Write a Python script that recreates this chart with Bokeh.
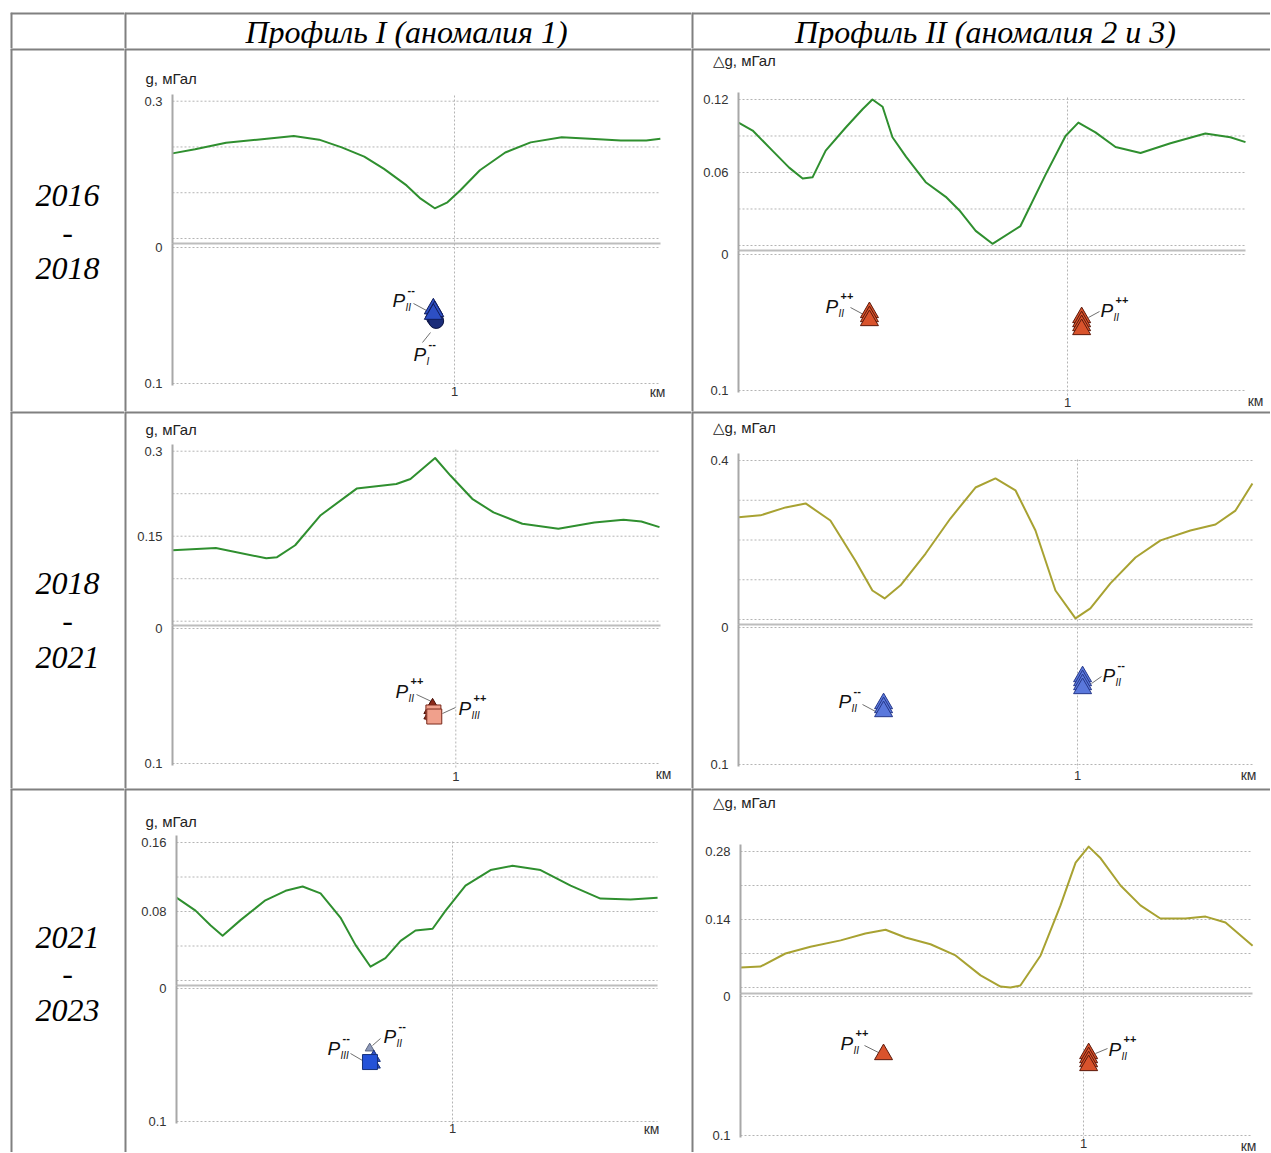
from bokeh.plotting import figure
from bokeh.models import Range1d, LinearAxis, FixedTicker, NumeralTickFormatter, Spacer
from bokeh.layouts import column, row
from bokeh.embed import file_html
from bokeh.resources import INLINE
from bokeh.core.properties import value

# ---------------- texts ----------------
header_labels = ["Профиль I (аномалия 1)", "Профиль II (аномалия 2 и 3)"]
period_start = ["2016", "2018", "2021"]
period_end = ["2018", "2021", "2023"]
g_label_left = "g, мГал"
g_label_right = "△g, мГал"
x_tick_label = "1"
x_unit = "км"

# ---------------- curves (km, mGal) ----------------
c11_km = [0, 0.08, 0.19, 0.30, 0.43, 0.52, 0.60, 0.68, 0.75, 0.83, 0.88, 0.93, 0.975, 1.02, 1.09, 1.18, 1.27, 1.38, 1.48, 1.59, 1.68, 1.73]
c11_g = [0.186, 0.195, 0.209, 0.216, 0.224, 0.216, 0.199, 0.179, 0.152, 0.116, 0.087, 0.066, 0.079, 0.105, 0.149, 0.188, 0.210, 0.221, 0.218, 0.214, 0.214, 0.218]

c12_km = [0, 0.043, 0.103, 0.154, 0.195, 0.225, 0.265, 0.326, 0.377, 0.407, 0.438, 0.468, 0.509, 0.569, 0.630, 0.671, 0.721, 0.772, 0.857, 0.933, 0.994, 1.033, 1.085, 1.146, 1.222, 1.313, 1.419, 1.495, 1.541]
c12_g = [0.101, 0.0945, 0.078, 0.064, 0.055, 0.056, 0.078, 0.097, 0.112, 0.120, 0.114, 0.089, 0.073, 0.052, 0.040, 0.029, 0.012, 0.0014, 0.016, 0.058, 0.090, 0.101, 0.093, 0.081, 0.076, 0.084, 0.092, 0.089, 0.085]

c21_km = [0, 0.153, 0.331, 0.369, 0.433, 0.523, 0.650, 0.790, 0.840, 0.927, 0.981, 1.058, 1.133, 1.235, 1.362, 1.489, 1.592, 1.655, 1.719]
c21_g = [0.125, 0.129, 0.111, 0.113, 0.134, 0.187, 0.234, 0.242, 0.251, 0.288, 0.257, 0.216, 0.192, 0.172, 0.163, 0.174, 0.179, 0.176, 0.166]

c22_km = [0, 0.065, 0.139, 0.198, 0.271, 0.345, 0.395, 0.431, 0.478, 0.552, 0.625, 0.699, 0.758, 0.817, 0.876, 0.935, 0.994, 1.038, 1.097, 1.171, 1.245, 1.333, 1.407, 1.466, 1.516]
c22_g = [0.257, 0.262, 0.282, 0.292, 0.249, 0.148, 0.073, 0.053, 0.086, 0.166, 0.254, 0.332, 0.355, 0.325, 0.224, 0.073, 0.003, 0.028, 0.091, 0.156, 0.199, 0.224, 0.239, 0.274, 0.342]

c31_km = [0, 0.069, 0.123, 0.167, 0.232, 0.322, 0.395, 0.457, 0.522, 0.594, 0.649, 0.703, 0.757, 0.812, 0.866, 0.928, 0.975, 1.047, 1.138, 1.217, 1.319, 1.428, 1.536, 1.645, 1.743]
c31_g = [0.096, 0.081, 0.064, 0.052, 0.070, 0.093, 0.104, 0.109, 0.101, 0.073, 0.041, 0.016, 0.026, 0.046, 0.058, 0.060, 0.081, 0.110, 0.128, 0.133, 0.128, 0.110, 0.095, 0.094, 0.096]

c32_km = [0, 0.058, 0.131, 0.204, 0.292, 0.364, 0.423, 0.481, 0.554, 0.627, 0.700, 0.758, 0.787, 0.816, 0.875, 0.933, 0.977, 1.015, 1.050, 1.108, 1.166, 1.224, 1.297, 1.356, 1.414, 1.493]
c32_g = [0.041, 0.043, 0.070, 0.084, 0.097, 0.111, 0.119, 0.103, 0.089, 0.066, 0.025, 0.002, 0.0, 0.004, 0.066, 0.169, 0.257, 0.290, 0.266, 0.210, 0.169, 0.142, 0.142, 0.146, 0.134, 0.086]

# ---------------- sources (km, depth km) ----------------
m11_circ_km = [0.928, 0.935]
m11_circ_d = [0.052, 0.054]
m11_tri_km = [0.925, 0.930, 0.925]
m11_tri_d = [0.045, 0.047, 0.049]

m12a_km = [0.398, 0.398, 0.398]
m12a_d = [0.0426, 0.0456, 0.0485]
m12b_km = [1.043, 1.043, 1.043, 1.043]
m12b_d = [0.0463, 0.0493, 0.0522, 0.0551]

m21_tri_km = [0.912, 0.912]
m21_tri_d = [0.060, 0.064]
m21_top_km = [0.918]
m21_top_d = [0.0556]
m21_sq_km = [0.921, 0.924]
m21_sq_d = [0.0622, 0.0652]

m22a_km = [0.428, 0.428, 0.428]
m22a_d = [0.0555, 0.0584, 0.0613]
m22b_km = [1.015, 1.015, 1.015, 1.015]
m22b_d = [0.0358, 0.0387, 0.0416, 0.0445]

m31_gray_km = [0.70]
m31_gray_d = [0.045]
m31_tri_km = [0.715, 0.715]
m31_tri_d = [0.052, 0.057]
m31_sq_km = [0.701]
m31_sq_d = [0.0553]

m32a_km = [0.417]
m32a_d = [0.0417]
m32b_km = [1.015, 1.015, 1.015, 1.015]
m32b_d = [0.041, 0.0439, 0.0468, 0.0496]

# ---------------- layout ----------------
COL_W = [114, 567, 579]
ROW_H = [36, 363, 377, 364]
COL_X = [10, 124, 691]
ROW_Y = [12, 48, 411, 788]
BORDER = "#808080"
GREEN = "#2f8f2f"
OLIVE = "#a8a232"
GRIDC = "#b4b4b4"
SANS = "Liberation Sans"
SERIF = "Liberation Serif"


def base_fig(w, h, xr, yr):
    p = figure(width=w, height=h, x_range=xr, y_range=yr,
               x_axis_type=None, y_axis_type=None, toolbar_location=None,
               output_backend="svg", min_border=0, outline_line_color=None,
               background_fill_color="white", border_fill_color="white")
    return p


def add_borders(p, w, h, xr="default", yr="default"):
    p.segment(x0=[0, 0], y0=[0, 0], x1=[w, 0], y1=[0, h],
              line_color=BORDER, line_width=4, x_range_name=xr, y_range_name=yr)


def text_cell(w, h, texts):
    p = base_fig(w, h, Range1d(0, w), Range1d(h, 0))
    add_borders(p, w, h)
    for (x, y, t, size) in texts:
        p.text(x=[x], y=[y], text=[t], text_align="center", text_baseline="middle",
               text_font=value(SERIF), text_font_style="italic",
               text_font_size=size, text_color="black")
    return p


def make_panel(col, rowi, geo, km, g, color, grid_vals, g_ticks, ylab_text, marks, labels):
    w, h = COL_W[col], ROW_H[rowi]
    ox, oy = COL_X[col], ROW_Y[rowi]
    ax0, ppk, g0, ppg = geo["ax0"], geo["ppk"], geo["g0"], geo["ppg"]
    sep, d0, ppd = geo["sep"], geo["d0"], geo["ppd"]
    xr = Range1d(-ax0 / ppk, (w - ax0) / ppk)
    yr = Range1d((g0 - h) / ppg, g0 / ppg)
    p = base_fig(w, h, xr, yr)
    p.extra_x_ranges = {"px": Range1d(0, w)}
    p.extra_y_ranges = {"py": Range1d(h, 0),
                        "depth": Range1d((h - d0) / ppd, -d0 / ppd)}
    xend = (geo["xend"] - ax0) / ppk

    # grid lines
    n = len(grid_vals)
    p.segment(x0=[0] * n, x1=[xend] * n, y0=grid_vals, y1=grid_vals,
              line_color=GRIDC, line_dash="2 2", line_width=1)
    p.segment(x0=[0, 0], x1=[xend, xend], y0=[0, 0.1], y1=[0, 0.1],
              line_color=GRIDC, line_dash="2 2", line_width=1, y_range_name="depth")
    p.segment(x0=[0], x1=[xend], y0=[sep], y1=[sep], line_color="#bdbdbd",
              line_width=2, y_range_name="py")
    p.segment(x0=[1], x1=[1], y0=[geo["vtop"]], y1=[geo["vbot"]],
              line_color=GRIDC, line_dash="2 2", line_width=1, y_range_name="py")

    # axes
    style = dict(axis_line_color="#a8a8a8", axis_line_width=2,
                 major_tick_line_color=None, minor_tick_line_color=None,
                 major_label_text_font=SANS, major_label_text_font_size="13px",
                 major_label_text_color="#333333", major_label_standoff=4,
                 formatter=NumeralTickFormatter(format="0.[00]"))
    ga = LinearAxis(fixed_location=0, bounds=((g0 - sep) / ppg, max(g_ticks) + 7 / ppg),
                    ticker=FixedTicker(ticks=g_ticks), **style)
    p.add_layout(ga, "left")
    da = LinearAxis(fixed_location=0, y_range_name="depth",
                    bounds=((sep - d0) / ppd, 0.1 + 2 / ppd),
                    ticker=FixedTicker(ticks=[0, 0.1]), **style)
    p.add_layout(da, "left")

    # curve
    p.line(km, g, line_color=color, line_width=2, line_join="round")

    # texts
    lx, ly = geo["ylab"]
    p.text(x=[lx], y=[ly], text=[ylab_text], text_align="left", text_baseline="middle",
           text_font=value(SANS), text_font_size="15px", text_color="#222222",
           x_range_name="px", y_range_name="py")
    p.text(x=[1], y=[geo["lab1"]], text=[x_tick_label], text_align="center",
           text_baseline="middle", text_font=value(SANS), text_font_size="13px",
           text_color="#333333", y_range_name="py")
    kx, ky = geo["labkm"]
    p.text(x=[kx], y=[ky], text=[x_unit], text_align="center", text_baseline="middle",
           text_font=value(SANS), text_font_size="14px", text_color="#333333",
           x_range_name="px", y_range_name="py")

    # leader lines and P labels
    for lab in labels:
        px0, py0 = lab["P"][0] - ox, lab["P"][1] - oy
        l = lab["lead"]
        p.segment(x0=[l[0] - ox], y0=[l[1] - oy], x1=[l[2] - ox], y1=[l[3] - oy],
                  line_color="#707070", line_width=1, x_range_name="px", y_range_name="py")
        p.text(x=[px0], y=[py0], text=["P"], text_align="left", text_baseline="middle",
               text_font=value(SANS), text_font_style="italic", text_font_size="19px",
               text_color="#111111", x_range_name="px", y_range_name="py")
        p.text(x=[px0 + 13], y=[py0 + 7], text=[lab["sub"]], text_align="left",
               text_baseline="middle", text_font=value(SANS), text_font_style="italic",
               text_font_size="10px", text_color="#111111", x_range_name="px", y_range_name="py")
        p.text(x=[px0 + 15], y=[py0 - 11], text=[lab["sup"]], text_align="left",
               text_baseline="middle", text_font=value(SANS), text_font_style="bold",
               text_font_size="11px", text_color="#111111", x_range_name="px", y_range_name="py")

    # source markers
    for (mk, ds, marker, size, fill, line) in marks:
        p.scatter(x=mk, y=ds, marker=marker, size=size, fill_color=fill, line_color=line,
                  line_width=1, y_range_name="depth")

    add_borders(p, w, h, "px", "py")
    return p


RED_F, RED_L = "#d9532c", "#5c1a0c"

geo11 = dict(ax0=48, ppk=282, g0=190, ppg=457.7, sep=195, d0=199, ppd=1360, xend=536,
             vtop=47, vbot=342, ylab=(21, 30), lab1=343, labkm=(533, 343))
geo12 = dict(ax0=47, ppk=329, g0=197, ppg=1216.7, sep=202, d0=206, ppd=1360, xend=554,
             vtop=49, vbot=347, ylab=(21, 12), lab1=354, labkm=(564, 352))
geo21 = dict(ax0=48, ppk=283.3, g0=209.7, ppg=566.7, sep=214, d0=217, ppd=1350, xend=536,
             vtop=38, vbot=357, ylab=(21, 18), lab1=365, labkm=(539, 362))
geo22 = dict(ax0=47, ppk=339, g0=208, ppg=397.5, sep=213, d0=216, ppd=1370, xend=561,
             vtop=48, vbot=357, ylab=(21, 16), lab1=364, labkm=(557, 363))
geo31 = dict(ax0=52, ppk=276, g0=192, ppg=862.5, sep=197, d0=200, ppd=1330, xend=533,
             vtop=53, vbot=335, ylab=(21, 33), lab1=340, labkm=(527, 340))
geo32 = dict(ax0=49, ppk=343, g0=199, ppg=485.7, sep=205, d0=208, ppd=1390, xend=561,
             vtop=60, vbot=352, ylab=(21, 14), lab1=355, labkm=(557, 357))

lab11 = [dict(P=(392, 300), sub="II", sup="--", lead=(413, 303, 426, 310)),
         dict(P=(413, 354), sub="I", sup="--", lead=(422, 342, 430, 332))]
lab12 = [dict(P=(825, 306), sub="II", sup="++", lead=(850, 307, 863, 314)),
         dict(P=(1100, 310), sub="II", sup="++", lead=(1088, 317, 1099, 311))]
lab21 = [dict(P=(395, 691), sub="II", sup="++", lead=(416, 694, 431, 701)),
         dict(P=(458, 708), sub="III", sup="++", lead=(455, 707, 442, 713))]
lab22 = [dict(P=(838, 701), sub="II", sup="--", lead=(862, 704, 877, 712)),
         dict(P=(1102, 675), sub="II", sup="--", lead=(1091, 683, 1101, 676))]
lab31 = [dict(P=(327, 1048), sub="III", sup="--", lead=(350, 1053, 362, 1060)),
         dict(P=(383, 1036), sub="II", sup="--", lead=(380, 1038, 372, 1045))]
lab32 = [dict(P=(840, 1043), sub="II", sup="++", lead=(864, 1045, 878, 1052)),
         dict(P=(1108, 1049), sub="II", sup="++", lead=(1107, 1048, 1095, 1053))]

marks11 = [(m11_circ_km, m11_circ_d, "circle", 15, "#1b2d7a", "#0a1240"),
           (m11_tri_km, m11_tri_d, "triangle", 18, "#2d4fc4", "#101c5a")]
marks12 = [(m12a_km, m12a_d, "triangle", 18, RED_F, RED_L),
           (m12b_km, m12b_d, "triangle", 18, RED_F, RED_L)]
marks21 = [(m21_tri_km, m21_tri_d, "triangle", 14, "#8a2a1a", "#4a1008"),
           (m21_top_km, m21_top_d, "triangle", 9, "#8a2a1a", "#4a1008"),
           (m21_sq_km, m21_sq_d, "square", 15, "#f0a08c", "#7a2a1c")]
marks22 = [(m22a_km, m22a_d, "triangle", 18, "#5a78dc", "#26388a"),
           (m22b_km, m22b_d, "triangle", 18, "#5a78dc", "#26388a")]
marks31 = [(m31_gray_km, m31_gray_d, "triangle", 9, "#8c98b8", "#5a6480"),
           (m31_tri_km, m31_tri_d, "triangle", 13, "#3050c8", "#14307a"),
           (m31_sq_km, m31_sq_d, "square", 15, "#2352d8", "#14307a")]
marks32 = [(m32a_km, m32a_d, "triangle", 18, RED_F, RED_L),
           (m32b_km, m32b_d, "triangle", 18, RED_F, RED_L)]

# header row
h0 = text_cell(COL_W[0], ROW_H[0], [])
h1 = text_cell(COL_W[1], ROW_H[0], [(282, 19, header_labels[0], "32px")])
h2 = text_cell(COL_W[2], ROW_H[0], [(294, 19, header_labels[1], "32px")])

year_y = [(147, 184, 220), (172, 209, 246), (149, 185, 222)]
ycells = []
for i in range(3):
    a, b, c = year_y[i]
    ycells.append(text_cell(COL_W[0], ROW_H[i + 1],
                            [(57, a, period_start[i], "32px"), (57, b, "-", "32px"),
                             (57, c, period_end[i], "32px")]))

p11 = make_panel(1, 1, geo11, c11_km, c11_g, GREEN, [0, 0.1, 0.2, 0.3], [0.3], g_label_left, marks11, lab11)
p12 = make_panel(2, 1, geo12, c12_km, c12_g, GREEN, [0, 0.03, 0.06, 0.09, 0.12], [0.12, 0.06], g_label_right, marks12, lab12)
p21 = make_panel(1, 2, geo21, c21_km, c21_g, GREEN, [0, 0.075, 0.15, 0.225, 0.3], [0.3, 0.15], g_label_left, marks21, lab21)
p22 = make_panel(2, 2, geo22, c22_km, c22_g, OLIVE, [0, 0.1, 0.2, 0.3, 0.4], [0.4], g_label_right, marks22, lab22)
p31 = make_panel(1, 3, geo31, c31_km, c31_g, GREEN, [0, 0.04, 0.08, 0.12, 0.16], [0.16, 0.08], g_label_left, marks31, lab31)
p32 = make_panel(2, 3, geo32, c32_km, c32_g, OLIVE, [0, 0.07, 0.14, 0.21, 0.28], [0.28, 0.14], g_label_right, marks32, lab32)

table = column(row(h0, h1, h2),
               row(ycells[0], p11, p12),
               row(ycells[1], p21, p22),
               row(ycells[2], p31, p32))
layout = column(Spacer(width=10, height=12), row(Spacer(width=10, height=10), table))

open("out.html", "w").write(file_html(layout, INLINE))
